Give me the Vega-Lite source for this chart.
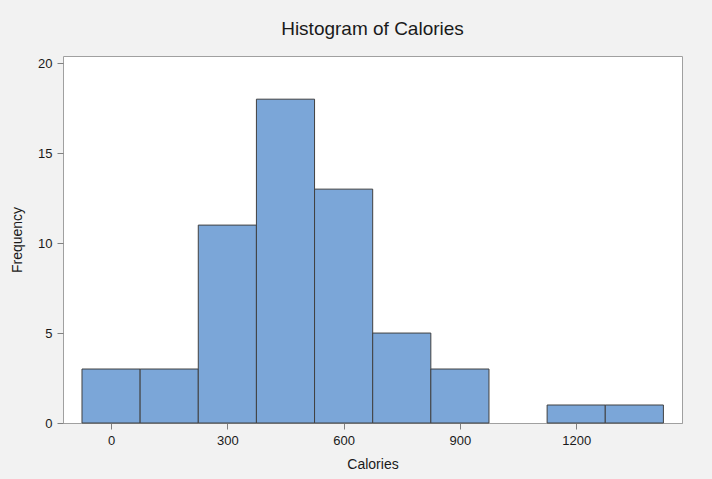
{
  "$schema": "https://vega.github.io/schema/vega-lite/v6.json",
  "autosize": {"type": "none"},
  "width": 619,
  "height": 367,
  "padding": {"left": 63, "top": 56, "right": 30, "bottom": 56},
  "background": "#f2f2f2",
  "title": {
    "text": "Histogram of Calories",
    "font": "Liberation Sans",
    "fontSize": 19,
    "fontWeight": "normal",
    "color": "#1a1a1a",
    "anchor": "middle",
    "offset": 17
  },
  "config": {
    "view": {"fill": "white", "stroke": "#a0a0a0", "strokeWidth": 1},
    "axis": {
      "labelFont": "Liberation Sans",
      "titleFont": "Liberation Sans",
      "labelFontSize": 13,
      "titleFontSize": 14,
      "titleFontWeight": "normal",
      "labelColor": "#1a1a1a",
      "titleColor": "#1a1a1a",
      "tickColor": "#808080",
      "domainColor": "#a0a0a0",
      "grid": false
    }
  },
  "data": {
    "values": [
      {"bin_start": -75, "bin_end": 75, "count": 3},
      {"bin_start": 75, "bin_end": 225, "count": 3},
      {"bin_start": 225, "bin_end": 375, "count": 11},
      {"bin_start": 375, "bin_end": 525, "count": 18},
      {"bin_start": 525, "bin_end": 675, "count": 13},
      {"bin_start": 675, "bin_end": 825, "count": 5},
      {"bin_start": 825, "bin_end": 975, "count": 3},
      {"bin_start": 1125, "bin_end": 1275, "count": 1},
      {"bin_start": 1275, "bin_end": 1425, "count": 1}
    ]
  },
  "mark": {"type": "bar", "fill": "#7ba6d8", "stroke": "#404040", "strokeWidth": 1, "fillOpacity": 1},
  "encoding": {
    "x": {
      "field": "bin_start",
      "type": "quantitative",
      "scale": {"domain": [-124, 1473], "nice": false, "zero": false},
      "axis": {"values": [0, 300, 600, 900, 1200], "format": "d", "title": "Calories", "tickSize": 6, "labelPadding": 5, "titlePadding": 10, "domain": true}
    },
    "x2": {"field": "bin_end"},
    "y": {
      "field": "count",
      "type": "quantitative",
      "scale": {"domain": [0, 20.4], "nice": false},
      "axis": {"values": [0, 5, 10, 15, 20], "title": "Frequency", "tickSize": 6, "labelPadding": 5, "titlePadding": 13, "domain": false}
    },
    "y2": {"datum": 0}
  }
}
